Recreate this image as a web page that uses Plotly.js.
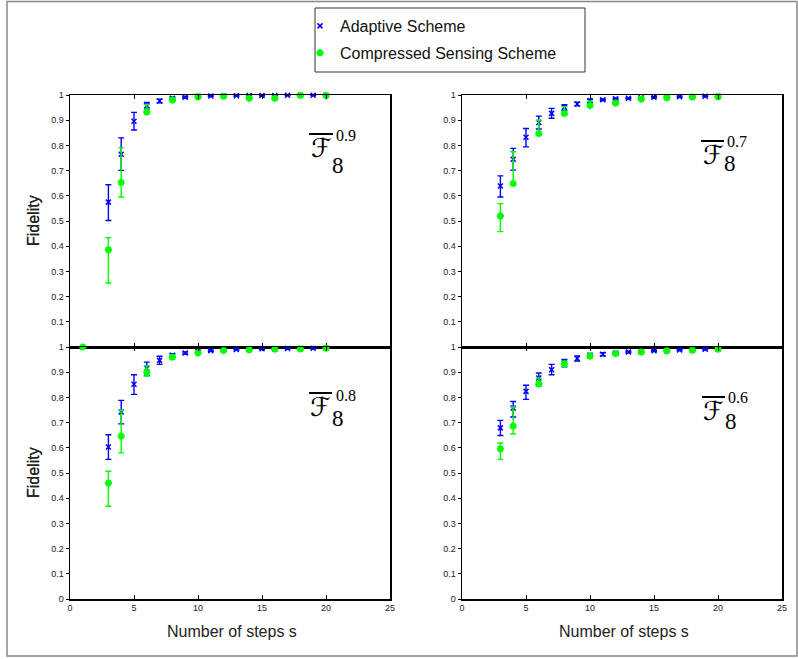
<!DOCTYPE html>
<html>
<head>
<meta charset="utf-8">
<script src="https://cdn.plot.ly/plotly-3.0.1.min.js"></script>
<style>
html,body{margin:0;padding:0;background:#fff;}
#chart{width:798px;height:659px;}
</style>
</head>
<body>
<div id="chart"></div>
<script>
// ---------------- DATA ----------------
const seriesNames = ['Adaptive Scheme', 'Compressed Sensing Scheme'];
const panelExponents = ['0.9', '0.7', '0.8', '0.6'];
const panelSubscript = '8';
const xTickVals = [0, 5, 10, 15, 20, 25];
const xTickText = ['0', '5', '10', '15', '20', '25'];
const yTickValsTop = [0.1, 0.2, 0.3, 0.4, 0.5, 0.6, 0.7, 0.8, 0.9, 1];
const yTickTextTop = ['0.1', '0.2', '0.3', '0.4', '0.5', '0.6', '0.7', '0.8', '0.9', '1'];
const yTickValsBottom = [0, 0.1, 0.2, 0.3, 0.4, 0.5, 0.6, 0.7, 0.8, 0.9, 1];
const yTickTextBottom = ['0', '0.1', '0.2', '0.3', '0.4', '0.5', '0.6', '0.7', '0.8', '0.9', '1'];
const xTitle = 'Number of steps s';
const yTitle = 'Fidelity';

// steps for adaptive scheme
const stepsAdaptive = [3, 4, 5, 6, 7, 8, 9, 10, 11, 12, 13, 14, 15, 16, 17, 18, 19, 20];
// steps for compressed sensing scheme
const stepsCS = [3, 4, 6, 8, 10, 12, 14, 16, 18, 20];
const stepsCS_08 = [1, 3, 4, 6, 8, 10, 12, 14, 16, 18, 20];

// Panel F^0.9 (top-left)
const ad09 = [0.575, 0.765, 0.896, 0.957, 0.976, 0.987, 0.991, 0.995, 0.996, 0.997, 0.997, 0.998, 0.998, 0.998, 0.999, 0.999, 0.999, 0.999];
const ad09Hi = [0.644, 0.830, 0.931, 0.970, 0.983, 0.991, 0.994, 0.997, 0.998, 0.999, 0.999, 1.0, 1.0, 1.0, 1.0, 1.0, 1.0, 1.0];
const ad09Lo = [0.502, 0.701, 0.861, 0.944, 0.969, 0.983, 0.988, 0.993, 0.994, 0.995, 0.995, 0.996, 0.996, 0.996, 0.998, 0.998, 0.998, 0.998];
const cs09 = [0.386, 0.653, 0.933, 0.980, 0.992, 0.995, 0.987, 0.987, 0.998, 0.998];
const cs09Hi = [0.434, 0.790, 0.962, 0.986, 0.995, 0.997, 0.990, 0.990, 1.0, 1.0];
const cs09Lo = [0.254, 0.595, 0.925, 0.975, 0.989, 0.993, 0.984, 0.984, 0.996, 0.996];

// Panel F^0.7 (top-right)
const ad07 = [0.639, 0.745, 0.832, 0.891, 0.927, 0.951, 0.964, 0.977, 0.981, 0.985, 0.987, 0.989, 0.991, 0.992, 0.993, 0.993, 0.995, 0.995];
const ad07Hi = [0.679, 0.788, 0.867, 0.916, 0.947, 0.962, 0.971, 0.983, 0.984, 0.988, 0.989, 0.991, 0.993, 0.994, 0.995, 0.995, 0.997, 0.997];
const ad07Lo = [0.595, 0.702, 0.794, 0.865, 0.908, 0.938, 0.957, 0.971, 0.978, 0.982, 0.985, 0.987, 0.989, 0.990, 0.991, 0.991, 0.993, 0.993];
const cs07 = [0.520, 0.649, 0.847, 0.927, 0.958, 0.968, 0.984, 0.989, 0.992, 0.993];
const cs07Hi = [0.569, 0.775, 0.900, 0.954, 0.975, 0.973, 0.987, 0.991, 0.994, 0.995];
const cs07Lo = [0.458, 0.643, 0.842, 0.921, 0.952, 0.963, 0.981, 0.987, 0.990, 0.991];

// Panel F^0.8 (bottom-left)
const ad08 = [0.603, 0.742, 0.852, 0.916, 0.947, 0.967, 0.976, 0.982, 0.985, 0.989, 0.990, 0.991, 0.993, 0.993, 0.994, 0.994, 0.995, 0.995];
const ad08Hi = [0.652, 0.788, 0.890, 0.940, 0.963, 0.973, 0.980, 0.985, 0.987, 0.991, 0.992, 0.993, 0.995, 0.995, 0.996, 0.996, 0.997, 0.997];
const ad08Lo = [0.554, 0.695, 0.812, 0.887, 0.931, 0.961, 0.972, 0.979, 0.983, 0.987, 0.988, 0.989, 0.991, 0.991, 0.992, 0.992, 0.993, 0.993];
const cs08 = [1.0, 0.460, 0.646, 0.900, 0.960, 0.977, 0.986, 0.989, 0.991, 0.992, 0.995];
const cs08Hi = [1.0, 0.507, 0.748, 0.925, 0.968, 0.982, 0.989, 0.991, 0.993, 0.994, 0.997];
const cs08Lo = [1.0, 0.368, 0.580, 0.885, 0.952, 0.972, 0.983, 0.987, 0.989, 0.990, 0.993];

// Panel F^0.6 (bottom-right)
const ad06 = [0.679, 0.758, 0.824, 0.877, 0.910, 0.940, 0.954, 0.967, 0.971, 0.976, 0.980, 0.981, 0.985, 0.985, 0.988, 0.989, 0.991, 0.991];
const ad06Hi = [0.709, 0.784, 0.848, 0.897, 0.931, 0.951, 0.964, 0.974, 0.977, 0.980, 0.983, 0.984, 0.988, 0.988, 0.990, 0.991, 0.993, 0.993];
const ad06Lo = [0.649, 0.722, 0.792, 0.850, 0.890, 0.921, 0.944, 0.960, 0.965, 0.972, 0.977, 0.978, 0.982, 0.982, 0.986, 0.987, 0.989, 0.989];
const cs06 = [0.596, 0.686, 0.854, 0.934, 0.964, 0.974, 0.980, 0.985, 0.987, 0.991];
const cs06Hi = [0.619, 0.762, 0.877, 0.943, 0.970, 0.978, 0.983, 0.988, 0.990, 0.993];
const cs06Lo = [0.554, 0.656, 0.844, 0.921, 0.958, 0.970, 0.977, 0.982, 0.984, 0.989];

// ---------------- LAYOUT HELPERS ----------------
const W = 798, H = 659;
const PX = v => v / W;
const PY = v => 1 - v / H;

const BLUE = '#0000ff';
const GREEN = '#00ff00';
const tickFont = {family: 'Liberation Sans, Arial, sans-serif', size: 9, color: '#222'};

const panels = [
  {xa: 'x',  ya: 'y',  x0: 70,  x1: 390, y0: 95,  y1: 347, top: true,
   s: [stepsAdaptive, stepsCS], v: [ad09, cs09], hi: [ad09Hi, cs09Hi], lo: [ad09Lo, cs09Lo],
   lab: {ox0: 309, ox1: 333, oy: 134, fx: 321, fy: 148, ex: 346, ey: 135, sx: 338, sy: 166}},
  {xa: 'x2', ya: 'y2', x0: 462, x1: 782, y0: 95,  y1: 347, top: true,
   s: [stepsAdaptive, stepsCS], v: [ad07, cs07], hi: [ad07Hi, cs07Hi], lo: [ad07Lo, cs07Lo],
   lab: {ox0: 701, ox1: 724, oy: 141, fx: 713, fy: 155, ex: 737, ey: 141, sx: 730, sy: 164}},
  {xa: 'x3', ya: 'y3', x0: 70,  x1: 390, y0: 347, y1: 599, top: false,
   s: [stepsAdaptive, stepsCS_08], v: [ad08, cs08], hi: [ad08Hi, cs08Hi], lo: [ad08Lo, cs08Lo],
   lab: {ox0: 309, ox1: 332, oy: 393, fx: 320, fy: 407, ex: 346, ey: 395, sx: 338, sy: 418}},
  {xa: 'x4', ya: 'y4', x0: 462, x1: 782, y0: 347, y1: 599, top: false,
   s: [stepsAdaptive, stepsCS], v: [ad06, cs06], hi: [ad06Hi, cs06Hi], lo: [ad06Lo, cs06Lo],
   lab: {ox0: 702, ox1: 725, oy: 397, fx: 713, fy: 411, ex: 738, ey: 397, sx: 731, sy: 422}}
];

const traces = [];
const layout = {
  width: W, height: H,
  margin: {l: 0, r: 0, t: 0, b: 0, pad: 0},
  paper_bgcolor: '#fff', plot_bgcolor: '#fff',
  showlegend: true,
  legend: {
    x: PX(300), y: PY(9), xanchor: 'left', yanchor: 'top',
    bgcolor: 'rgba(0,0,0,0)', borderwidth: 0,
    font: {family: 'Liberation Sans, Arial, sans-serif', size: 16, color: '#111'},
    tracegroupgap: 3
  },
  annotations: [], shapes: []
};

panels.forEach((p, i) => {
  const n = i === 0 ? '' : String(i + 1);
  const rn = String(i + 5);
  const colors = [BLUE, GREEN];
  const symbols = ['x-thin-open', 'asterisk-open'];
  for (let k = 0; k < 2; k++) {
    traces.push({
      type: 'scatter', mode: 'markers',
      name: seriesNames[k], legendgroup: 'g' + k, showlegend: i === 0,
      x: p.s[k], y: p.v[k], xaxis: p.xa, yaxis: p.ya,
      cliponaxis: false,
      marker: {symbol: symbols[k], size: k === 0 ? 5 : 6, color: colors[k],
               line: {color: colors[k], width: k === 0 ? 1.5 : 2}},
      error_y: {type: 'data', symmetric: false,
                array: p.hi[k].map((h, j) => h - p.v[k][j]),
                arrayminus: p.lo[k].map((l, j) => p.v[k][j] - l),
                color: colors[k], thickness: 1.4, width: 3}
    });
  }
  layout['xaxis' + n] = {
    domain: [PX(p.x0), PX(p.x1)], anchor: p.ya, range: [0, 25],
    tickmode: 'array', tickvals: xTickVals, ticktext: xTickText,
    showticklabels: !p.top, tickfont: tickFont,
    ticks: 'inside', ticklen: 4, tickwidth: 1, tickcolor: '#000',
    showline: true, linecolor: '#000', linewidth: 1.5, mirror: 'ticks',
    showgrid: false, zeroline: false
  };
  layout['yaxis' + n] = {
    domain: [PY(p.y1), PY(p.y0)], anchor: p.xa, range: [0, 1],
    tickmode: 'array',
    tickvals: p.top ? yTickValsTop : yTickValsBottom,
    ticktext: p.top ? yTickTextTop : yTickTextBottom,
    tickfont: tickFont,
    ticks: 'outside', ticklen: 3, tickwidth: 1, tickcolor: '#000',
    showline: true, linecolor: '#000', linewidth: 1.5, mirror: true,
    showgrid: false, zeroline: false
  };
  layout['yaxis' + rn] = {
    overlaying: p.ya, side: 'right', anchor: p.xa, range: [0, 1],
    tickmode: 'array', tickvals: p.top ? yTickValsTop : yTickValsBottom,
    showticklabels: false, ticks: 'inside', ticklen: 4, tickwidth: 1, tickcolor: '#000',
    showline: false, showgrid: false, zeroline: false
  };
  // axis titles
  layout.annotations.push({
    xref: 'paper', yref: 'paper', x: PX(33), y: PY((p.y0 + p.y1) / 2),
    text: yTitle, textangle: -90, showarrow: false, xanchor: 'center', yanchor: 'middle',
    font: {family: 'Liberation Sans, Arial, sans-serif', size: 16, color: '#222'}
  });
  if (!p.top) {
    layout.annotations.push({
      xref: 'paper', yref: 'paper', x: PX((p.x0 + p.x1) / 2 + 2), y: PY(631),
      text: xTitle, showarrow: false, xanchor: 'center', yanchor: 'middle',
      font: {family: 'Liberation Sans, Arial, sans-serif', size: 16, color: '#222'}
    });
  }
  // F label
  const L = p.lab;
  layout.annotations.push({
    xref: 'paper', yref: 'paper', x: PX(L.fx), y: PY(L.fy), text: '\u2131',
    showarrow: false, xanchor: 'center', yanchor: 'middle',
    font: {family: 'DejaVu Sans, sans-serif', size: 26, color: '#000'}
  });
  layout.annotations.push({
    xref: 'paper', yref: 'paper', x: PX(L.ex), y: PY(L.ey), text: panelExponents[i],
    showarrow: false, xanchor: 'center', yanchor: 'middle',
    font: {family: 'Liberation Serif, serif', size: 16, color: '#000'}
  });
  layout.annotations.push({
    xref: 'paper', yref: 'paper', x: PX(L.sx), y: PY(L.sy), text: panelSubscript,
    showarrow: false, xanchor: 'center', yanchor: 'middle',
    font: {family: 'Liberation Serif, serif', size: 23, color: '#000'}
  });
  layout.shapes.push({
    type: 'line', xref: 'paper', yref: 'paper',
    x0: PX(L.ox0), x1: PX(L.ox1), y0: PY(L.oy), y1: PY(L.oy),
    line: {color: '#000', width: 2}
  });
});

// legend frame and outer frame
layout.shapes.push({
  type: 'rect', xref: 'paper', yref: 'paper',
  x0: PX(315), x1: PX(585), y0: PY(72), y1: PY(8),
  line: {color: '#333', width: 1}, fillcolor: 'rgba(0,0,0,0)'
});
layout.shapes.push({
  type: 'rect', xref: 'paper', yref: 'paper',
  x0: PX(7), x1: PX(797), y0: PY(656), y1: PY(1.5),
  line: {color: '#888', width: 1.5}, fillcolor: 'rgba(0,0,0,0)'
});

Plotly.newPlot('chart', traces, layout, {displayModeBar: false, staticPlot: true});
</script>
</body>
</html>
